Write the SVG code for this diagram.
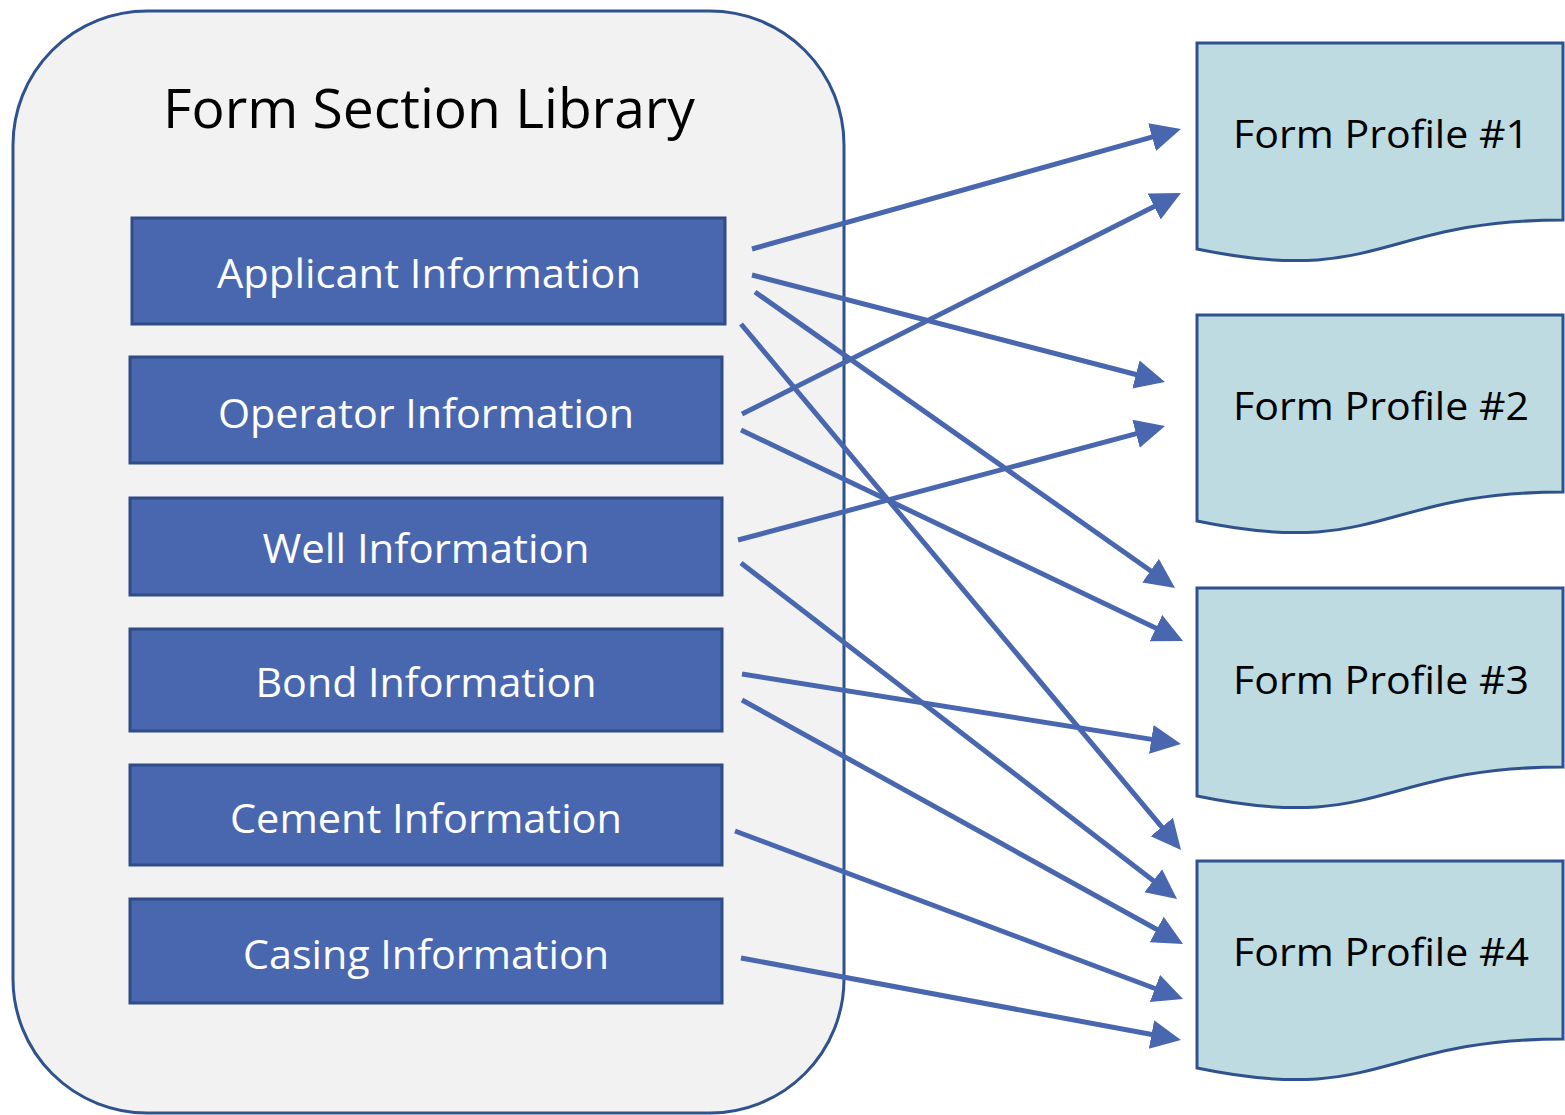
<svg xmlns="http://www.w3.org/2000/svg" width="1565" height="1115" viewBox="0 0 1565 1115">
<style>
.lib{fill:#f2f2f2;stroke:#2f528f;stroke-width:3}
.sec{fill:#4967ae;stroke:#2f4b88;stroke-width:3}
.doc{fill:#bddbe0;stroke:#2f528f;stroke-width:3}
.st{font-family:"Open Sans","Noto Sans",sans-serif;font-size:40px;fill:#ffffff;text-anchor:middle}
.dt{font-family:"Open Sans","Noto Sans",sans-serif;font-size:38px;fill:#000000;text-anchor:middle}
.tt{font-family:"Open Sans","Noto Sans",sans-serif;font-size:55px;fill:#000000;text-anchor:middle}
.cn line{stroke:#4967ae;stroke-width:5;fill:none;marker-end:url(#ah)}
</style>
<defs>
<marker id="ah" markerUnits="userSpaceOnUse" markerWidth="32" markerHeight="32" refX="10" refY="14.5" orient="auto">
<path d="M0,0 L30,14.5 L0,29 Z" fill="#4967ae"/>
</marker>
</defs>
<rect width="1565" height="1115" fill="#ffffff"/>
<g id="library">
<rect class="lib" x="13" y="11" width="831" height="1102" rx="134" ry="134"/>
<text class="tt" x="429" y="128" textLength="532" lengthAdjust="spacingAndGlyphs">Form Section Library</text>
</g>
<g id="sec-applicant"><rect class="sec" x="132" y="218" width="593" height="106"/><text class="st" x="429" y="288" textLength="424" lengthAdjust="spacingAndGlyphs">Applicant Information</text></g>
<g id="sec-operator"><rect class="sec" x="130" y="357" width="592" height="106"/><text class="st" x="426" y="428" textLength="416" lengthAdjust="spacingAndGlyphs">Operator Information</text></g>
<g id="sec-well"><rect class="sec" x="130" y="498" width="592" height="97"/><text class="st" x="426" y="563" textLength="327" lengthAdjust="spacingAndGlyphs">Well Information</text></g>
<g id="sec-bond"><rect class="sec" x="130" y="629" width="592" height="102"/><text class="st" x="426" y="697" textLength="341" lengthAdjust="spacingAndGlyphs">Bond Information</text></g>
<g id="sec-cement"><rect class="sec" x="130" y="765" width="592" height="100"/><text class="st" x="426" y="833" textLength="392" lengthAdjust="spacingAndGlyphs">Cement Information</text></g>
<g id="sec-casing"><rect class="sec" x="130" y="899" width="592" height="104"/><text class="st" x="426" y="969" textLength="366" lengthAdjust="spacingAndGlyphs">Casing Information</text></g>
<g id="profile-1"><path class="doc" d="M1197,43 H1563 V220 C1380,220 1380,287 1197,249 Z"/><text class="dt" x="1381" y="148" textLength="296" lengthAdjust="spacingAndGlyphs">Form Profile #1</text></g>
<g id="profile-2"><path class="doc" d="M1197,315 H1563 V492 C1380,492 1380,559 1197,521 Z"/><text class="dt" x="1381" y="420" textLength="296" lengthAdjust="spacingAndGlyphs">Form Profile #2</text></g>
<g id="profile-3"><path class="doc" d="M1197,588 H1563 V767 C1380,767 1380,834 1197,796 Z"/><text class="dt" x="1381" y="694" textLength="296" lengthAdjust="spacingAndGlyphs">Form Profile #3</text></g>
<g id="profile-4"><path class="doc" d="M1197,861 H1563 V1039 C1380,1039 1380,1106 1197,1068 Z"/><text class="dt" x="1381" y="966" textLength="296" lengthAdjust="spacingAndGlyphs">Form Profile #4</text></g>
<g id="connectors" class="cn">
<line x1="752" y1="249" x2="1161.7" y2="134.4"/>
<line x1="742" y1="414" x2="1163.1" y2="202"/>
<line x1="752" y1="275" x2="1145.6" y2="377"/>
<line x1="738" y1="540" x2="1145.7" y2="431.2"/>
<line x1="755" y1="292" x2="1158.7" y2="576.5"/>
<line x1="741" y1="430" x2="1165" y2="632.4"/>
<line x1="742" y1="674" x2="1161.2" y2="740.9"/>
<line x1="741" y1="324" x2="1168.2" y2="834.7"/>
<line x1="741" y1="563" x2="1161.2" y2="886.8"/>
<line x1="742" y1="700" x2="1165.5" y2="934.3"/>
<line x1="735" y1="831" x2="1164.3" y2="992"/>
<line x1="741" y1="958" x2="1161.3" y2="1036.3"/>
</g>
</svg>
